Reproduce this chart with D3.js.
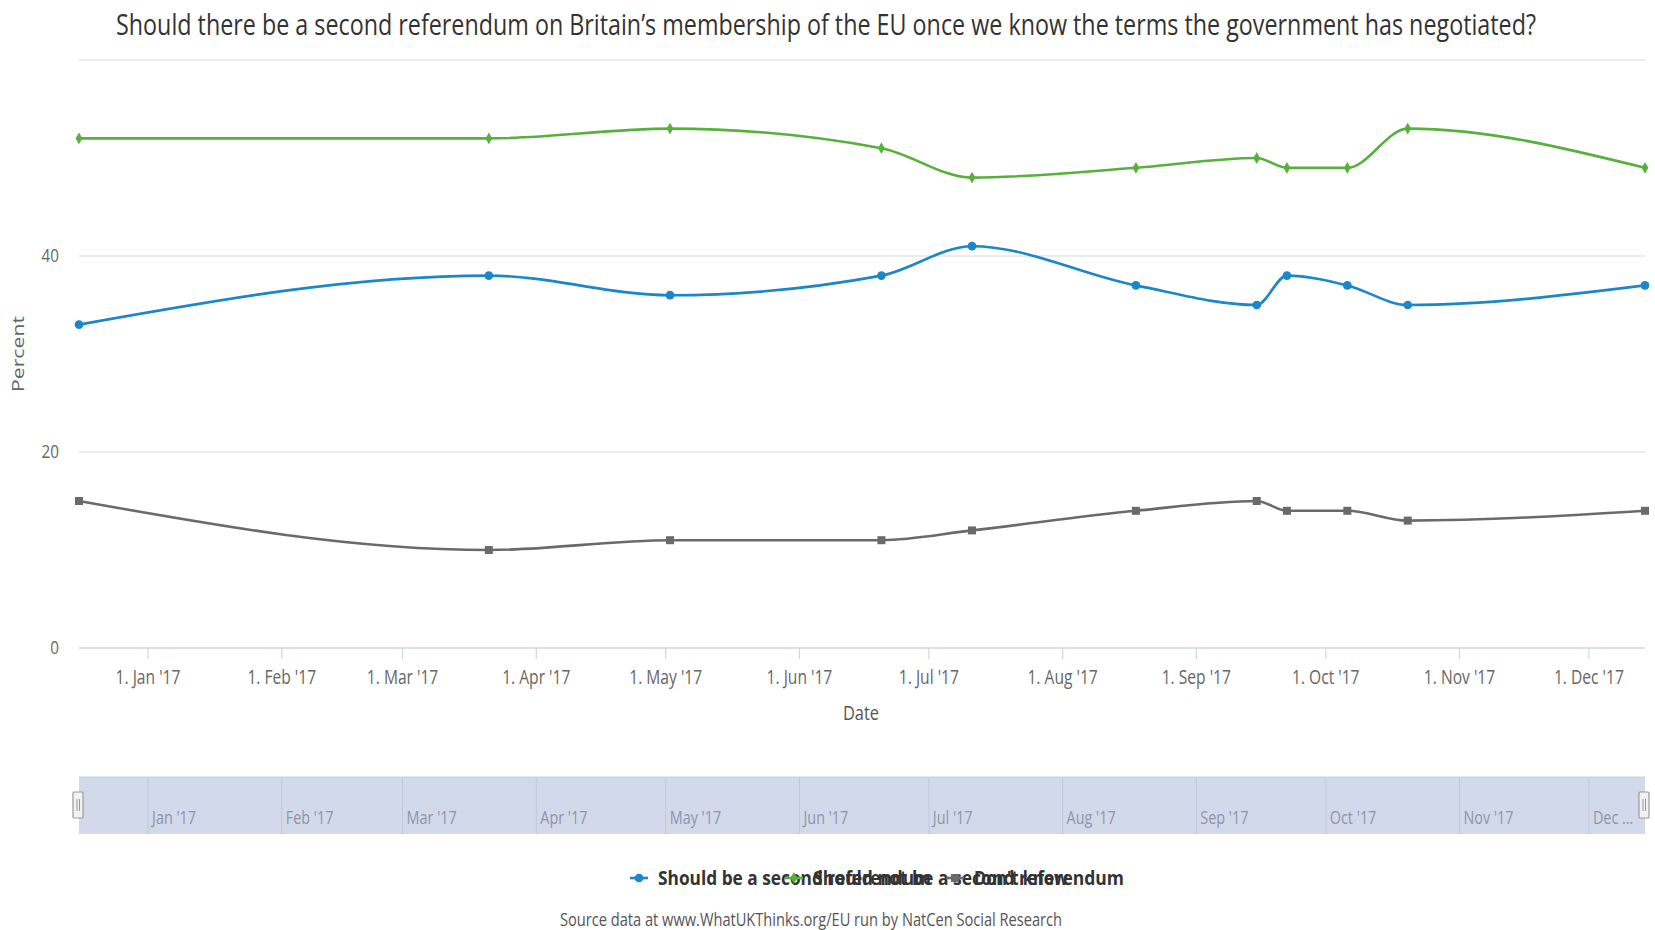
<!DOCTYPE html>
<html>
<head>
<meta charset="utf-8">
<script src="https://cdn.jsdelivr.net/npm/d3@7"></script>
<style>
  html, body { margin: 0; padding: 0; background: #fff; }
  svg { display: block; font-family: "Open Sans", "DejaVu Sans", sans-serif; }
</style>
</head>
<body>
<svg id="chart" width="1655" height="930"></svg>
<script>
// ---------------- DATA ----------------
const titleText = "Should there be a second referendum on Britain\u2019s membership of the EU once we know the terms the government has negotiated?";
const sourceText = "Source data at www.WhatUKThinks.org/EU run by NatCen Social Research";
const dates = ["2016-12-16","2017-03-21","2017-05-02","2017-06-20","2017-07-11","2017-08-18","2017-09-15","2017-09-22","2017-10-06","2017-10-20","2017-12-14"];
const shouldBe    = [33, 38, 36, 38, 41, 37, 35, 38, 37, 35, 37];
const shouldNotBe = [52, 52, 53, 51, 48, 49, 50, 49, 49, 53, 49];
const dontKnow    = [15, 10, 11, 11, 12, 14, 15, 14, 14, 13, 14];
const seriesNames = ["Should be a second referendum", "Should not be a second referendum", "Don't know"];
const yTicks = [0, 20, 40, 60];
const yTickLabels = ["0", "20", "40", ""];
const navLabels = ["Jan '17","Feb '17","Mar '17","Apr '17","May '17","Jun '17","Jul '17","Aug '17","Sep '17","Oct '17","Nov '17","Dec \u2026"];

// ---------------- SETUP ----------------
(function () {
const svg = d3.select("#chart");
const parse = d3.utcParse("%Y-%m-%d");
const xDates = dates.map(parse);
const pLeft = 79, pRight = 1645, pTop = 60, pBottom = 648;
const x = d3.scaleUtc().domain(d3.extent(xDates)).range([pLeft, pRight]);
const y = d3.scaleLinear().domain([0, 60]).range([pBottom, pTop]);

function condense(sel, f) {
  sel.each(function () {
    const L = this.getComputedTextLength();
    d3.select(this).attr("textLength", L * f).attr("lengthAdjust", "spacingAndGlyphs");
  });
}
function fit(sel, w) { sel.attr("textLength", w).attr("lengthAdjust", "spacingAndGlyphs"); }

// Title
svg.append("text").attr("x", 826).attr("y", 35).attr("text-anchor", "middle")
  .attr("font-size", 30).attr("fill", "#333").text(titleText).call(fit, 1420);

// Grid lines
svg.append("g").selectAll("line").data(yTicks.filter(d => d > 0)).join("line")
  .attr("x1", pLeft).attr("x2", pRight).attr("y1", d => y(d)).attr("y2", d => y(d))
  .attr("stroke", "#e6e6e6").attr("stroke-width", 1.5);

// Y labels
svg.append("g").selectAll("text").data(yTicks).join("text")
  .attr("x", 59).attr("y", d => y(d) + 6).attr("text-anchor", "end")
  .attr("font-size", 19).attr("fill", "#666").text((d, i) => yTickLabels[i])
  .call(condense, 0.8);

// Y title
svg.append("text").attr("transform", "translate(24,354) rotate(-90)")
  .attr("text-anchor", "middle").attr("font-size", 17).attr("fill", "#666")
  .text("Percent").call(fit, 76);

// X axis line + ticks
const months = d3.utcMonth.range(new Date(Date.UTC(2017, 0, 1)), x.domain()[1]);
svg.append("line").attr("x1", pLeft).attr("x2", pRight).attr("y1", pBottom).attr("y2", pBottom)
  .attr("stroke", "#ccd6eb").attr("stroke-width", 1.5);
svg.append("g").selectAll("line").data(months).join("line")
  .attr("x1", d => x(d)).attr("x2", d => x(d)).attr("y1", pBottom).attr("y2", pBottom + 11)
  .attr("stroke", "#ccd6eb").attr("stroke-width", 1.2);
const fmt = d3.utcFormat("%b '%y");
svg.append("g").selectAll("text").data(months).join("text")
  .attr("x", d => x(d)).attr("y", 684).attr("text-anchor", "middle")
  .attr("font-size", 19.5).attr("fill", "#666").text(d => "1. " + fmt(d))
  .call(condense, 0.8);

// X title
svg.append("text").attr("x", 861).attr("y", 720).attr("text-anchor", "middle")
  .attr("font-size", 20).attr("fill", "#555").text("Date").call(condense, 0.82);

// ---------------- SERIES ----------------
const series = [
  { name: seriesNames[0], values: shouldBe, color: "#1a87c9", sym: d3.symbolCircle, size: 60 },
  { name: seriesNames[1], values: shouldNotBe, color: "#58b03c", sym: d3.symbolDiamond, size: 40 },
  { name: seriesNames[2], values: dontKnow, color: "#6a6a6a", sym: d3.symbolSquare, size: 64 }
];
const line = d3.line().x(d => x(d.date)).y(d => y(d.v)).curve(d3.curveMonotoneX);
series.forEach(s => {
  const pts = xDates.map((dt, i) => ({ date: dt, v: s.values[i] }));
  svg.append("path").datum(pts).attr("d", line).attr("fill", "none")
    .attr("stroke", s.color).attr("stroke-width", 2.6);
  svg.append("g").selectAll("path").data(pts).join("path")
    .attr("transform", d => `translate(${x(d.date)},${y(d.v)})`)
    .attr("d", d3.symbol().type(s.sym).size(s.size)).attr("fill", s.color);
});

// ---------------- NAVIGATOR ----------------
const navTop = 777, navBottom = 834;
svg.append("rect").attr("x", pLeft).attr("y", navTop).attr("width", pRight - pLeft).attr("height", navBottom - navTop)
  .attr("fill", "#d2d9ea");
svg.append("line").attr("x1", pLeft).attr("x2", pRight).attr("y1", navTop).attr("y2", navTop)
  .attr("stroke", "#c6cee0").attr("stroke-width", 1);
svg.append("g").selectAll("line").data(months).join("line")
  .attr("x1", d => x(d)).attr("x2", d => x(d)).attr("y1", navTop).attr("y2", navBottom)
  .attr("stroke", "#bfc8dc").attr("stroke-width", 1);
svg.append("g").selectAll("text").data(months).join("text")
  .attr("x", d => x(d) + 4).attr("y", 824)
  .attr("font-size", 18).attr("fill", "#8e96a8").text((d, i) => navLabels[i])
  .call(condense, 0.8);
// handles
[pLeft - 1, pRight - 1].forEach(hx => {
  const g = svg.append("g").attr("transform", `translate(${hx},805)`);
  g.append("rect").attr("x", -5).attr("y", -13).attr("width", 10).attr("height", 26).attr("rx", 1)
    .attr("fill", "#f2f2f2").attr("stroke", "#999").attr("stroke-width", 1.2);
  g.append("line").attr("x1", -1).attr("x2", -1).attr("y1", -6).attr("y2", 6).attr("stroke", "#999");
  g.append("line").attr("x1", 1.5).attr("x2", 1.5).attr("y1", -6).attr("y2", 6).attr("stroke", "#999");
});

// ---------------- LEGEND (overlapping, as in the reference) ----------------
const legendX = [639, 794, 955];
const legendW = [273, 311, 94];
series.forEach((s, i) => {
  const g = svg.append("g").attr("transform", `translate(${legendX[i]},878)`);
  g.append("line").attr("x1", -9).attr("x2", 9).attr("stroke", s.color).attr("stroke-width", 2.6);
  g.append("path").attr("d", d3.symbol().type(s.sym).size(s.size)).attr("fill", s.color);
  g.append("text").attr("x", 19).attr("y", 7).attr("font-size", 20).attr("font-weight", "bold")
    .attr("fill", "#333").text(s.name).call(fit, legendW[i]);
});

// Source
svg.append("text").attr("x", 811).attr("y", 926).attr("text-anchor", "middle")
  .attr("font-size", 18).attr("fill", "#555").text(sourceText).call(fit, 502);
})();
</script>
</body>
</html>
